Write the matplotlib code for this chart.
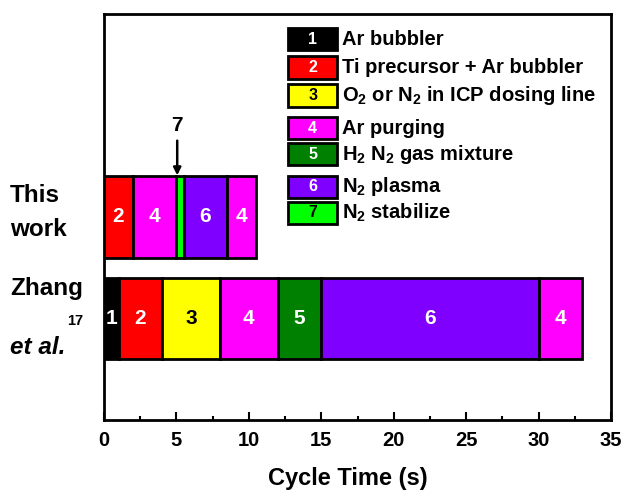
import matplotlib.pyplot as plt
from matplotlib.patches import Rectangle

plt.rcParams['font.family'] = ['Liberation Sans', 'DejaVu Sans']
plt.rcParams['font.weight'] = 'bold'
plt.rcParams['mathtext.default'] = 'regular'

# step colours and names
step_ids = ['1', '2', '3', '4', '5', '6', '7']
step_names = ['Ar bubbler', 'Ti precursor + Ar bubbler', 'O$_2$ or N$_2$ in ICP dosing line',
              'Ar purging', 'H$_2$ N$_2$ gas mixture', 'N$_2$ plasma', 'N$_2$ stabilize']
step_colors = ['#000000', '#ff0000', '#ffff00', '#ff00ff', '#008000', '#8000ff', '#00ff00']
step_text = ['white', 'white', 'black', 'white', 'white', 'white', 'black']

# sequences (step id, duration in s)
this_steps = ['2', '4', '7', '6', '4']
this_times = [2, 3, 0.5, 3, 2]
zhang_steps = ['1', '2', '3', '4', '5', '6', '4']
zhang_times = [1, 3, 4, 4, 3, 15, 3]

fig = plt.figure(figsize=(6.23, 4.91), dpi=100)
ax = fig.add_axes([0.167, 0.1446, 0.814, 0.827])


def draw_row(steps, times, y):
    left = 0
    for s, t in zip(steps, times):
        i = step_ids.index(s)
        ax.barh(y, t, left=left, height=0.8, color=step_colors[i],
                edgecolor='black', linewidth=2)
        if s != '7':
            ax.text(left + t / 2, y, s, color=step_text[i], ha='center', va='center',
                    fontsize=15, fontweight='bold')
        left += t


draw_row(this_steps, this_times, 2)
draw_row(zhang_steps, zhang_times, 1)

ax.annotate('7', xy=(5.05, 2.41), xytext=(5.05, 2.90), ha='center', va='center',
            fontsize=15, fontweight='bold',
            arrowprops=dict(arrowstyle='-|>', color='black', lw=1.8, mutation_scale=11,
                            shrinkA=2, shrinkB=0))

ax.set_xlim(0, 35)
ax.set_ylim(0, 4)
ax.set_yticks([])
ax.set_xticks(range(0, 36, 5))
ax.set_xticks([2.5 + 5 * k for k in range(7)], minor=True)
ax.tick_params(axis='x', which='major', direction='in', length=6, width=1.5,
               labelsize=14.5, pad=8)
ax.tick_params(axis='x', which='minor', direction='in', length=3, width=1.5)
for lbl in ax.get_xticklabels():
    lbl.set_fontweight('bold')
for sp in ax.spines.values():
    sp.set_linewidth(2)
# axis title placed by hand
fig.text(348 / 623, 1 - 478 / 491, 'Cycle Time (s)', ha='center', va='center',
         fontsize=17, fontweight='bold')

# legend drawn by hand
leg_y = [0.938, 0.869, 0.800, 0.719, 0.655, 0.574, 0.510]
for i, yy in enumerate(leg_y):
    ax.add_patch(Rectangle((0.363, yy - 0.028), 0.097, 0.056, transform=ax.transAxes,
                           facecolor=step_colors[i], edgecolor='black', linewidth=2,
                           clip_on=False))
    ax.text(0.4115, yy, step_ids[i], transform=ax.transAxes, ha='center', va='center',
            color=step_text[i], fontsize=11.5, fontweight='bold')
    ax.text(0.470, yy, step_names[i], transform=ax.transAxes, ha='left', va='center',
            fontsize=14.5, fontweight='bold')

# row labels
fig.text(10 / 623, 1 - 195 / 491, 'This', ha='left', va='center', fontsize=17.5,
         fontweight='bold')
fig.text(10 / 623, 1 - 230 / 491, 'work', ha='left', va='center', fontsize=17.5,
         fontweight='bold')
fig.text(10 / 623, 1 - 289 / 491, 'Zhang', ha='left', va='center', fontsize=17.5,
         fontweight='bold')
fig.text(10 / 623, 1 - 348 / 491, 'et al.', ha='left', va='center', fontsize=17.5,
         fontweight='bold', style='italic')
fig.text(67 / 623, 1 - 321 / 491, '17', ha='left', va='center', fontsize=10.5,
         fontweight='bold')

fig.savefig('out.png', dpi=100)
